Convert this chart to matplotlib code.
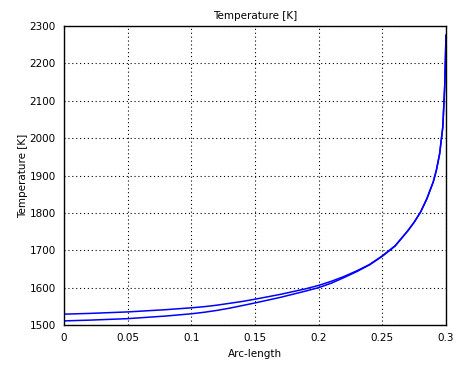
import matplotlib
matplotlib.use('Agg')
import matplotlib.pyplot as plt

# values
arc_length = [0, 0.02, 0.05, 0.08, 0.1, 0.11, 0.12, 0.13, 0.14, 0.15, 0.17,
              0.19, 0.2, 0.21, 0.22, 0.23, 0.24, 0.25, 0.26, 0.27, 0.275,
              0.28, 0.285, 0.29, 0.2925, 0.295, 0.2975, 0.299, 0.3]
temp_upper = [1529, 1531, 1535, 1541, 1546, 1549, 1553, 1558, 1563, 1569, 1582,
              1597, 1606, 1617, 1630, 1645, 1662, 1685, 1712, 1752, 1775,
              1802, 1838, 1883, 1915, 1958, 2030, 2140, 2275]
temp_lower = [1511, 1513, 1517, 1524, 1530, 1534, 1539, 1545, 1552, 1559, 1574,
              1591, 1600, 1612, 1627, 1643, 1661, 1684, 1711, 1752, 1775,
              1802, 1838, 1883, 1915, 1958, 2030, 2140, 2275]

xticks = [0, 0.05, 0.1, 0.15, 0.2, 0.25, 0.3]
xticklabels = ['0', '0.05', '0.1', '0.15', '0.2', '0.25', '0.3']
yticks = [1500, 1600, 1700, 1800, 1900, 2000, 2100, 2200, 2300]

plt.rcParams['font.family'] = ['DejaVu Sans']
plt.rcParams['font.size'] = 7.5

fig = plt.figure(figsize=(4.69, 3.66), dpi=100)
ax = fig.add_axes([64 / 469, 41 / 366, 382 / 469, 299 / 366])

ax.plot(arc_length, temp_upper, color='#0000ff', lw=1.1)
ax.plot(arc_length, temp_lower, color='#0000ff', lw=1.1)

ax.set_xlim(0, 0.3)
ax.set_ylim(1500, 2300)
ax.set_xticks(xticks)
ax.set_xticklabels(xticklabels)
ax.set_yticks(yticks)
ax.grid(True, color='black', linestyle=(0, (1, 2.5)), linewidth=0.8)
ax.tick_params(length=0, pad=6, labelsize=7.5)
for s in ax.spines.values():
    s.set_linewidth(1.0)

ax.set_title('Temperature [K]', fontsize=7.5, pad=5)
ax.set_xlabel('Arc-length', fontsize=7.5, labelpad=4)
ax.set_ylabel('Temperature [K]', fontsize=7.5)
ax.yaxis.set_label_coords(-0.094, 0.5)

fig.savefig('out.png', dpi=100)
